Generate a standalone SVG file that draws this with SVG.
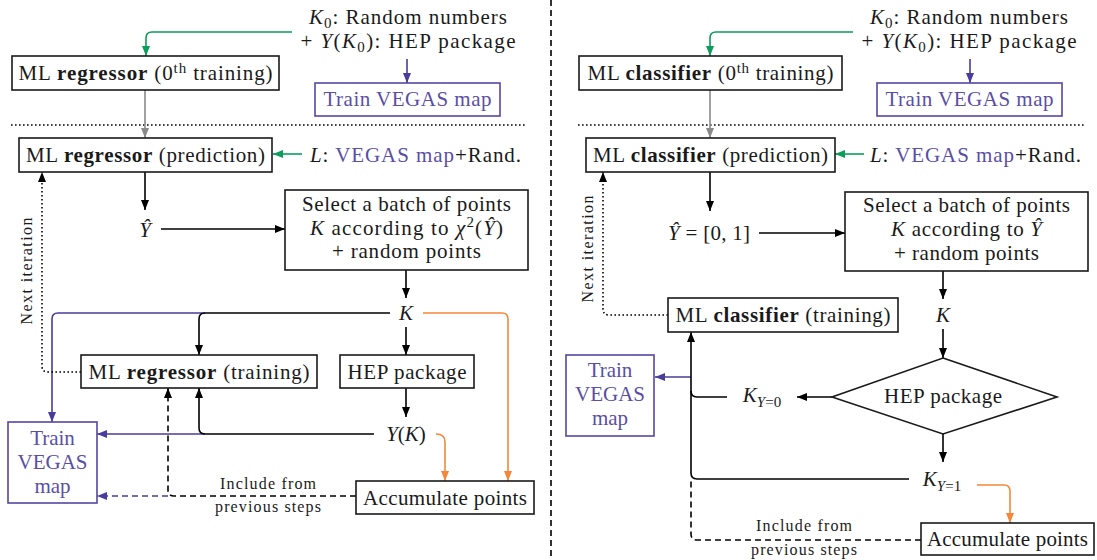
<svg xmlns="http://www.w3.org/2000/svg" width="1097" height="560" viewBox="0 0 1097 560">
<style>
.t{font-family:"Liberation Serif","DejaVu Serif","Noto Serif","Times New Roman",serif;font-size:21px;fill:#1a1a1a}
.s{font-size:16px}
.sub{font-size:15px}
.b{font-weight:bold}
.i{font-style:italic}
.p{fill:#5a4ea6}
.box{fill:#fff;stroke:#1a1a1a;stroke-width:1.6}
.pbox{fill:#fff;stroke:#5547a3;stroke-width:1.6}
.ln{fill:none;stroke:#000;stroke-width:1.6}
.g{stroke:#0a9e5a}
.pu{stroke:#4a3c9c}
.o{stroke:#f5873a}
.gr{stroke:#8a8a8a}
.dash{stroke-dasharray:6 4}
.dot{stroke-dasharray:1.6 2.4}
</style>
<defs>
<marker id="ak" markerUnits="userSpaceOnUse" markerWidth="10" markerHeight="9" viewBox="0 0 10 8" refX="10" refY="4" orient="auto"><path d="M0,0 L10,4 L0,8 z" fill="#000"/></marker>
<marker id="ag" markerUnits="userSpaceOnUse" markerWidth="10" markerHeight="9" viewBox="0 0 10 8" refX="10" refY="4" orient="auto"><path d="M0,0 L10,4 L0,8 z" fill="#0a9e5a"/></marker>
<marker id="ap" markerUnits="userSpaceOnUse" markerWidth="10" markerHeight="9" viewBox="0 0 10 8" refX="10" refY="4" orient="auto"><path d="M0,0 L10,4 L0,8 z" fill="#4a3c9c"/></marker>
<marker id="ao" markerUnits="userSpaceOnUse" markerWidth="10" markerHeight="9" viewBox="0 0 10 8" refX="10" refY="4" orient="auto"><path d="M0,0 L10,4 L0,8 z" fill="#f5873a"/></marker>
<marker id="agr" markerUnits="userSpaceOnUse" markerWidth="10" markerHeight="9" viewBox="0 0 10 8" refX="10" refY="4" orient="auto"><path d="M0,0 L10,4 L0,8 z" fill="#8a8a8a"/></marker>
</defs>

<g id="connectors">
<path class="ln dash" d="M551,0 V560" stroke-width="1.2"/>
<path class="ln dot" d="M11,125 H525"/>
<path class="ln dot" d="M578,125 H1085"/>
<path class="ln g" d="M292,32 H152 Q146,32 146,38 V56" marker-end="url(#ag)"/>
<path class="ln pu" d="M407,59 V83" marker-end="url(#ap)"/>
<path class="ln gr" d="M145,90 V138" marker-end="url(#agr)"/>
<path class="ln g" d="M302,154 H273" marker-end="url(#ag)"/>
<path class="ln" d="M145,172 V210" marker-end="url(#ak)"/>
<path class="ln" d="M161,229 H285" marker-end="url(#ak)"/>
<path class="ln" d="M406,270 V298" marker-end="url(#ak)"/>
<path class="ln pu" d="M205,313 H58 Q52,313 52,319 V422" marker-end="url(#ap)"/>
<path class="ln" d="M390,313 H205 Q199,313 199,319 V355" marker-end="url(#ak)"/>
<path class="ln o" d="M423,313 H502 Q508,313 508,319 V481" marker-end="url(#ao)"/>
<path class="ln" d="M406,327 V355" marker-end="url(#ak)"/>
<path class="ln" d="M406,388 V417" marker-end="url(#ak)"/>
<path class="ln pu" d="M205,434 H97" marker-end="url(#ap)"/>
<path class="ln" d="M374,434 H205 Q199,434 199,428 V388" marker-end="url(#ak)"/>
<path class="ln o" d="M436,434 Q445,434 445,442 V481" marker-end="url(#ao)"/>
<path class="ln pu dash" d="M168,496 H97" marker-end="url(#ap)"/>
<path class="ln dash" d="M356,496 H174 Q168,496 168,490 V388" marker-end="url(#ak)"/>
<path class="ln dot" d="M81,372 H48 Q42,372 42,366 V172" marker-end="url(#ak)"/>
<path class="ln g" d="M853,32 H716 Q710,32 710,38 V56" marker-end="url(#ag)"/>
<path class="ln pu" d="M970,59 V83" marker-end="url(#ap)"/>
<path class="ln gr" d="M710,90 V138" marker-end="url(#agr)"/>
<path class="ln g" d="M864,154 H835" marker-end="url(#ag)"/>
<path class="ln" d="M710,172 V211" marker-end="url(#ak)"/>
<path class="ln" d="M759,233 H845" marker-end="url(#ak)"/>
<path class="ln" d="M943,271 V299" marker-end="url(#ak)"/>
<path class="ln dot" d="M668,315 H609 Q603,315 603,309 V172" marker-end="url(#ak)"/>
<path class="ln" d="M943,329 V358" marker-end="url(#ak)"/>
<path class="ln" d="M832,397 H797" marker-end="url(#ak)"/>
<path class="ln pu" d="M691,377 H655" marker-end="url(#ap)"/>
<path class="ln" d="M909,479 H697 Q691,479 691,473 V332" marker-end="url(#ak)"/>
<path class="ln" d="M727,397 H697 Q691,397 691,391"/>
<path class="ln" d="M943,433 V462" marker-end="url(#ak)"/>
<path class="ln o" d="M977,485 H1004 Q1010,485 1010,491 V523" marker-end="url(#ao)"/>
<path class="ln dash" d="M921,540 H697 Q691,540 691,534 V479"/>
</g>

<g id="l-init">
<text class="t" x="408" y="24" text-anchor="middle" textLength="198"><tspan class="i">K</tspan><tspan class="sub" dy="4">0</tspan><tspan dy="-4">: Random numbers</tspan></text>
<text class="t" x="408" y="48" text-anchor="middle" textLength="215">+ <tspan class="i">Y</tspan>(<tspan class="i">K</tspan><tspan class="sub" dy="4">0</tspan><tspan dy="-4">): HEP package</tspan></text>
</g>
<g id="l-reg0">
<rect class="box" x="12" y="56" width="267" height="34"/>
<text class="t" x="145.5" y="80" text-anchor="middle" textLength="254">ML <tspan class="b">regressor</tspan> (0<tspan class="sub" dy="-7">th</tspan><tspan dy="7"> training)</tspan></text>
</g>
<g id="l-vegas0">
<rect class="pbox" x="315" y="83" width="185" height="33"/>
<text class="t p" x="407.5" y="106" text-anchor="middle" textLength="168">Train VEGAS map</text>
</g>
<g id="l-pred">
<rect class="box" x="19" y="138" width="253" height="34"/>
<text class="t" x="145.5" y="162" text-anchor="middle" textLength="239">ML <tspan class="b">regressor</tspan> (prediction)</text>
</g>
<g id="l-L">
<text class="t" x="310" y="162" textLength="211"><tspan class="i">L</tspan>: <tspan class="p">VEGAS map</tspan>+Rand.</text>
</g>
<g id="l-yhat">
<text class="t i" x="145" y="237" text-anchor="middle">Ŷ</text>
</g>
<g id="l-select">
<rect class="box" x="285" y="190" width="243" height="80"/>
<text class="t" x="406.5" y="211" text-anchor="middle" textLength="209">Select a batch of points</text>
<text class="t" x="406.5" y="235" text-anchor="middle" textLength="193"><tspan class="i">K</tspan> according to <tspan class="i">χ</tspan><tspan class="sub" dy="-8">2</tspan><tspan dy="8">(</tspan><tspan class="i">Ŷ</tspan>)</text>
<text class="t" x="406.5" y="258" text-anchor="middle" textLength="149">+ random points</text>
</g>
<g id="l-K">
<text class="t i" x="406" y="320" text-anchor="middle">K</text>
</g>
<g id="l-train">
<rect class="box" x="81" y="355" width="236" height="33"/>
<text class="t" x="199" y="379" text-anchor="middle" textLength="221">ML <tspan class="b">regressor</tspan> (training)</text>
</g>
<g id="l-hep">
<rect class="box" x="340" y="355" width="134" height="33"/>
<text class="t" x="407" y="379" text-anchor="middle" textLength="119">HEP package</text>
</g>
<g id="l-yk">
<text class="t" x="406" y="441" text-anchor="middle"><tspan class="i">Y</tspan>(<tspan class="i">K</tspan>)</text>
</g>
<g id="l-vegas">
<rect class="pbox" x="8" y="422" width="89" height="81"/>
<text class="t p" x="52.5" y="445" text-anchor="middle">Train</text>
<text class="t p" x="52.5" y="469" text-anchor="middle">VEGAS</text>
<text class="t p" x="52.5" y="493" text-anchor="middle">map</text>
</g>
<g id="l-acc">
<rect class="box" x="356" y="481" width="178" height="33"/>
<text class="t" x="445" y="505" text-anchor="middle" textLength="164">Accumulate points</text>
</g>
<g id="l-include">
<text class="t s" x="268" y="489" text-anchor="middle" textLength="96">Include from</text>
<text class="t s" x="268" y="512" text-anchor="middle" textLength="106">previous steps</text>
</g>
<g id="l-next">
<text class="t s" transform="translate(32,271) rotate(-90)" text-anchor="middle" textLength="107">Next iteration</text>
</g>

<g id="r-init">
<text class="t" x="969" y="24" text-anchor="middle" textLength="198"><tspan class="i">K</tspan><tspan class="sub" dy="4">0</tspan><tspan dy="-4">: Random numbers</tspan></text>
<text class="t" x="969" y="48" text-anchor="middle" textLength="215">+ <tspan class="i">Y</tspan>(<tspan class="i">K</tspan><tspan class="sub" dy="4">0</tspan><tspan dy="-4">): HEP package</tspan></text>
</g>
<g id="r-cls0">
<rect class="box" x="579" y="56" width="263" height="34"/>
<text class="t" x="710.5" y="80" text-anchor="middle" textLength="246">ML <tspan class="b">classifier</tspan> (0<tspan class="sub" dy="-7">th</tspan><tspan dy="7"> training)</tspan></text>
</g>
<g id="r-vegas0">
<rect class="pbox" x="877" y="83" width="185" height="33"/>
<text class="t p" x="969.5" y="106" text-anchor="middle" textLength="168">Train VEGAS map</text>
</g>
<g id="r-pred">
<rect class="box" x="586" y="138" width="249" height="34"/>
<text class="t" x="710.5" y="162" text-anchor="middle" textLength="235">ML <tspan class="b">classifier</tspan> (prediction)</text>
</g>
<g id="r-L">
<text class="t" x="870" y="162" textLength="211"><tspan class="i">L</tspan>: <tspan class="p">VEGAS map</tspan>+Rand.</text>
</g>
<g id="r-yhat">
<text class="t" x="709" y="240" text-anchor="middle" textLength="82"><tspan class="i">Ŷ</tspan> = [0, 1]</text>
</g>
<g id="r-select">
<rect class="box" x="845" y="192" width="243" height="79"/>
<text class="t" x="966.5" y="212" text-anchor="middle" textLength="207">Select a batch of points</text>
<text class="t" x="966.5" y="236" text-anchor="middle" textLength="151"><tspan class="i">K</tspan> according to <tspan class="i">Ŷ</tspan></text>
<text class="t" x="966.5" y="260" text-anchor="middle" textLength="145">+ random points</text>
</g>
<g id="r-K">
<text class="t i" x="943" y="322" text-anchor="middle">K</text>
</g>
<g id="r-train">
<rect class="box" x="668" y="298" width="230" height="34"/>
<text class="t" x="783" y="322" text-anchor="middle" textLength="215">ML <tspan class="b">classifier</tspan> (training)</text>
</g>
<g id="r-hep">
<path class="box" d="M943,358 L1057,397 L943,434 L832,397 Z"/>
<text class="t" x="943" y="403" text-anchor="middle" textLength="118">HEP package</text>
</g>
<g id="r-k0">
<text class="t" x="762" y="402" text-anchor="middle"><tspan class="i">K</tspan><tspan class="sub" dy="5"><tspan class="i">Y</tspan>=0</tspan></text>
</g>
<g id="r-k1">
<text class="t" x="942" y="486" text-anchor="middle"><tspan class="i">K</tspan><tspan class="sub" dy="5"><tspan class="i">Y</tspan>=1</tspan></text>
</g>
<g id="r-vegas">
<rect class="pbox" x="566" y="355" width="88" height="81"/>
<text class="t p" x="610" y="377" text-anchor="middle">Train</text>
<text class="t p" x="610" y="401" text-anchor="middle">VEGAS</text>
<text class="t p" x="610" y="425" text-anchor="middle">map</text>
</g>
<g id="r-acc">
<rect class="box" x="921" y="523" width="173" height="32"/>
<text class="t" x="1007.5" y="546" text-anchor="middle" textLength="161">Accumulate points</text>
</g>
<g id="r-include">
<text class="t s" x="804" y="531" text-anchor="middle" textLength="96">Include from</text>
<text class="t s" x="804" y="555" text-anchor="middle" textLength="106">previous steps</text>
</g>
<g id="r-next">
<text class="t s" transform="translate(593,249) rotate(-90)" text-anchor="middle" textLength="107">Next iteration</text>
</g>
</svg>
